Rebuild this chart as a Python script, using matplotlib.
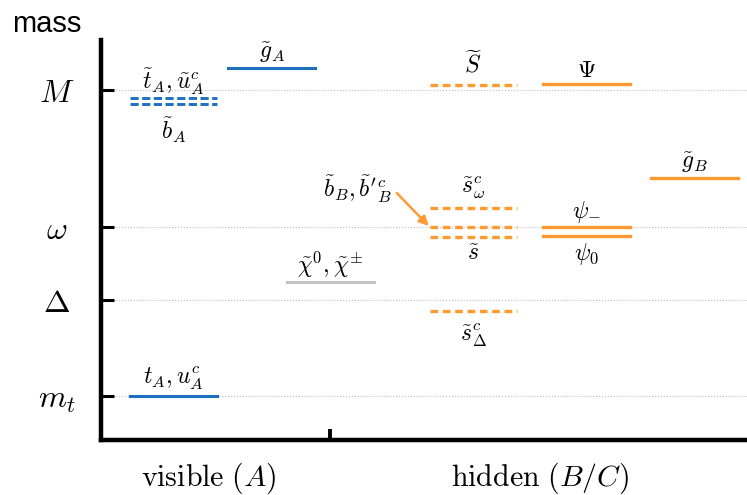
import matplotlib
matplotlib.use("Agg")
import matplotlib.pyplot as plt

plt.rcParams["mathtext.fontset"] = "cm"

BLUE = "#1d6fbf"
ORANGE = "#ff9a33"
GRAY = "#c3c3c3"

# reference mass scales (y ticks)
scale_vals = [0.44, 1.40, 2.13, 3.50]
scale_labels = [r"$m_t$", r"$\Delta$", r"$\omega$", r"$M$"]

# spectrum levels: column x, mass y
vis_x = [0.63, 0.63, 0.63, 1.49]
vis_y = [0.44, 3.42, 3.36, 3.72]
vis_style = ["-", "--", "--", "-"]

chi_x, chi_y = 2.00, 1.58

hid_x = [3.25, 3.25, 3.25, 3.25, 3.25, 4.24, 4.24, 4.24, 5.18]
hid_y = [3.55, 2.32, 2.13, 2.03, 1.29, 3.56, 2.13, 2.04, 2.62]
hid_style = ["--", "--", "--", "--", "--", "-", "-", "-", "-"]

half_w = 0.38

# labels: (x, level, text, pixel offset above/below)
level_labels = [
    (0.63, 3.42, r"$\tilde{t}_A, \tilde{u}^c_A$", 16),
    (0.63, 3.36, r"$\tilde{b}_A$", -26),
    (1.49, 3.72, r"$\tilde{g}_A$", 15),
    (0.63, 0.44, r"$t_A, u^c_A$", 18),
    (2.00, 1.58, r"$\tilde{\chi}^0, \tilde{\chi}^{\pm}$", 17),
    (3.25, 3.55, r"$\widetilde{S}$", 21),
    (4.24, 3.56, r"$\Psi$", 14),
    (5.18, 2.62, r"$\tilde{g}_B$", 15),
    (3.25, 2.32, r"$\tilde{s}^c_\omega$", 20),
    (3.25, 2.03, r"$\tilde{s}$", -16),
    (4.24, 2.13, r"$\psi_{-}$", 15),
    (4.24, 2.04, r"$\psi_0$", -18),
    (3.25, 1.29, r"$\tilde{s}^c_\Delta$", -24),
]

fig = plt.figure(figsize=(7.47, 4.95), dpi=100)
ax = fig.add_axes([101 / 747, 55 / 495, 646 / 747, 400 / 495])
ax.set_xlim(0, 5.64)
ax.set_ylim(0, 4.0)

for x, y, ls in zip(vis_x, vis_y, vis_style):
    if ls == "--":
        ax.plot([x - half_w, x + half_w], [y, y], color=BLUE, lw=2.1,
                dashes=(2.8, 1.2), zorder=3)
    else:
        ax.plot([x - half_w, x + half_w], [y, y], color=BLUE, lw=2.2, zorder=3)

ax.plot([chi_x - half_w, chi_x + half_w], [chi_y, chi_y], color=GRAY, lw=2.2, zorder=3)

for x, y, ls in zip(hid_x, hid_y, hid_style):
    if ls == "--":
        ax.plot([x - half_w, x + half_w], [y, y], color=ORANGE, lw=2.4,
                dashes=(2.3, 1.4), zorder=3)
    else:
        ax.plot([x - half_w, x + half_w], [y, y], color=ORANGE, lw=2.4, zorder=3)

for x, y, txt, off in level_labels:
    ax.annotate(txt, (x, y), xytext=(0, off), textcoords="offset pixels",
                ha="center", va="center", fontsize=17)

# arrow pointing at the sbottom level
ax.annotate("", (3.25 - half_w, 2.13), xytext=(-33, 34), textcoords="offset pixels",
            arrowprops=dict(arrowstyle="-|>", color=ORANGE, lw=1.8,
                            mutation_scale=14, shrinkA=0, shrinkB=1))
ax.annotate(r"$\tilde{b}_B, \tilde{b}'^c_B$", (3.25 - half_w, 2.13),
            xytext=(-72, 38), textcoords="offset pixels",
            ha="center", va="center", fontsize=17)

# axes styling
for s in ["top", "right"]:
    ax.spines[s].set_visible(False)
ax.spines["left"].set_linewidth(3.2)
ax.spines["bottom"].set_linewidth(3.2)

ax.set_yticks(scale_vals, labels=scale_labels)
ax.tick_params(axis="y", direction="in", length=9, width=2.2, pad=32, labelsize=23)
for lab in ax.get_yticklabels():
    lab.set_horizontalalignment("center")
ax.yaxis.grid(True, ls=":", lw=0.8, color="#bbbbbb")

ax.set_xticks([2.0], labels=[""])
ax.set_xticks([0.94, 3.83], labels=[r"$\mathrm{visible}\ (A)$", r"$\mathrm{hidden}\ (B/C)$"],
              minor=True)
ax.tick_params(axis="x", which="major", direction="in", length=8, width=2.8)
ax.tick_params(axis="x", which="minor", length=0, pad=15, labelsize=21.5)

fig.text(12 / 747, 1 - 32 / 495, "mass", fontsize=21, family="Liberation Sans",
         ha="left", va="baseline")

fig.savefig("out.png", dpi=100)
